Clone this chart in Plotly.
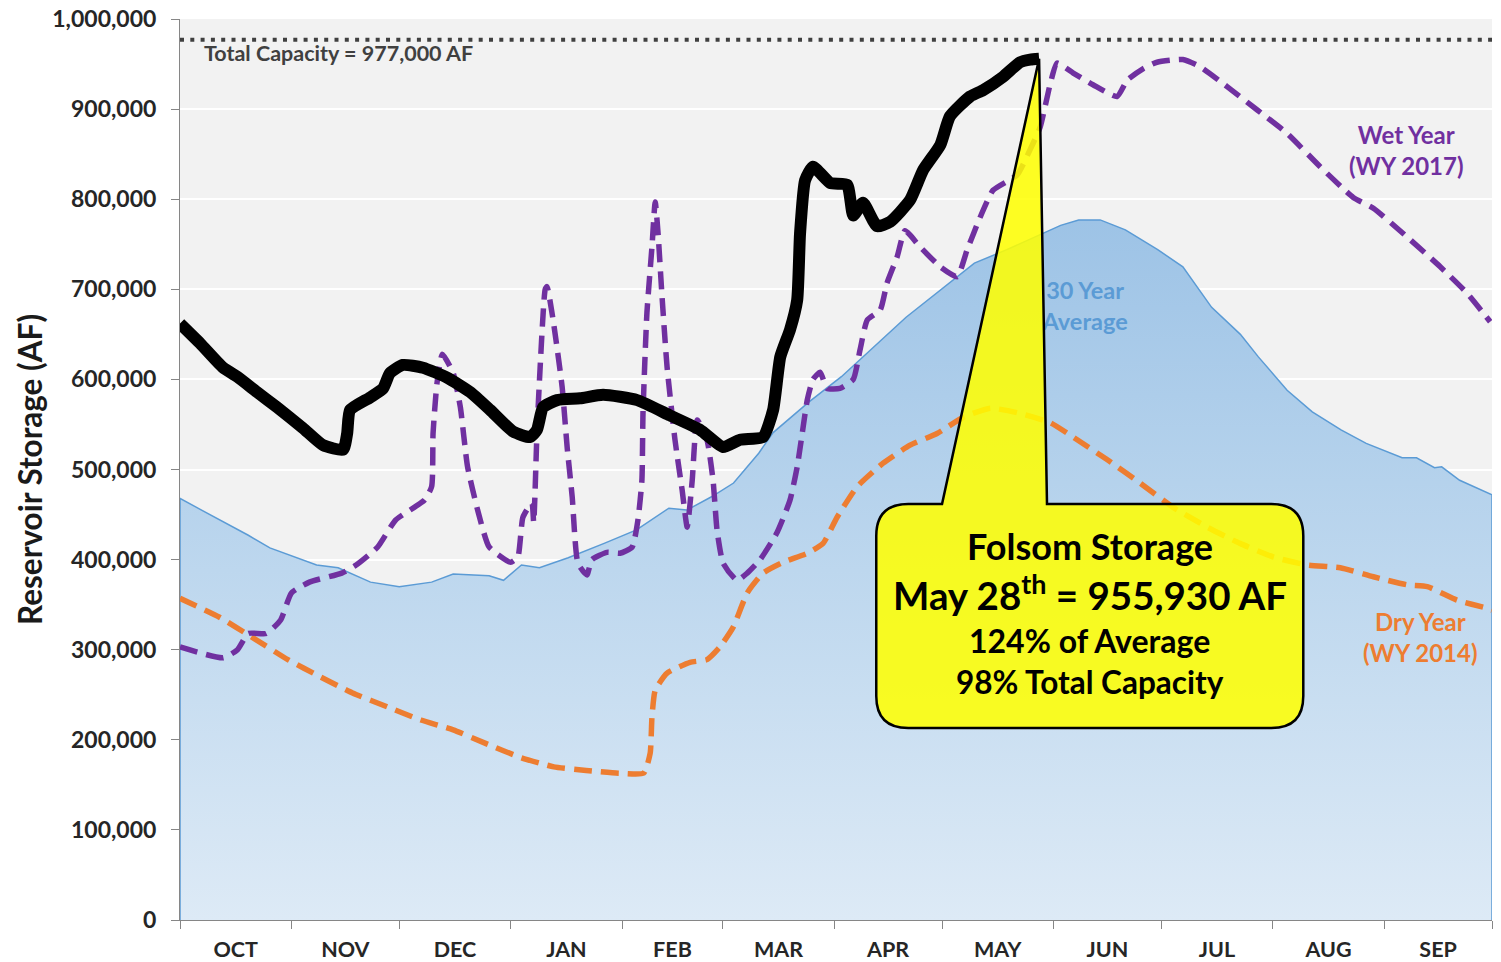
import plotly.graph_objects as go

# ---------------- data ----------------
MONTHS = ["OCT", "NOV", "DEC", "JAN", "FEB", "MAR", "APR", "MAY", "JUN", "JUL", "AUG", "SEP"]
MONTH_DAYS = [31, 30, 31, 31, 28, 31, 30, 31, 30, 31, 31, 30]
TOTAL_CAPACITY = 977000

# 30 year average storage (day of water year, AF)
avg_day = [0, 6, 19, 25, 38, 44, 53, 61, 70, 76, 86, 90, 95, 100, 108, 118, 127, 136, 141,
           148, 154, 161, 165, 175, 184, 202, 221, 230, 245, 250, 256, 263, 272, 279, 287,
           295, 300, 308, 315, 323, 330, 340, 344, 349, 351, 356, 364, 365]
avg_af = [468000, 455000, 427000, 413000, 394000, 391000, 375000, 370000, 375000, 384000,
          382000, 377000, 394000, 391000, 402000, 418000, 433000, 457000, 455000, 470000,
          485000, 518000, 541000, 575000, 603000, 669000, 729000, 744000, 771000, 777000,
          777000, 766000, 744000, 725000, 680000, 650000, 625000, 588000, 564000, 544000,
          529000, 513000, 513000, 502000, 503000, 488000, 474000, 472000]

# Wet year (WY 2017)
wet_day = [0, 12, 16, 19, 24, 28, 31, 36, 45, 49, 55, 60, 68, 70, 70.4, 71.5, 73, 76, 78, 80,
           83, 86, 92, 94, 95.4, 97.9, 98.4, 99.3, 100.2, 101.6, 102.1, 103.8, 106.3, 107.7,
           109.1, 110.7, 113.2, 114.6, 118.8, 122.4, 125.8, 127.4, 128.5, 128.8, 129.9, 131.3,
           132.2, 133, 134.1, 135.5, 137.7, 139.7, 141.1, 142.5, 143.9, 146.6, 148.3, 149.4,
           151.1, 155, 157.8, 161.4, 166.1, 169.7, 171.7, 173.1, 174.5, 176.1, 178.1, 180,
           183.6, 187.3, 189.2, 191.2, 194.8, 196.7, 199.5, 201.7, 205.9, 211.5, 216.2, 219,
           222.6, 226.2, 232.9, 236.5, 239.3, 242.1, 244, 248.5, 254, 260.7, 263.5, 268, 271.8,
           279, 283.8, 291.3, 299.7, 308, 317.2, 326.4, 332, 341.4, 350.6, 358, 364.5]
wet_kaf = [303, 291, 300, 318, 318, 333, 363, 375, 385, 394, 414, 444, 466, 481, 540, 596, 628,
           607, 569, 503, 452, 414, 397, 403, 447, 463, 441, 540, 614, 700, 703, 666, 592, 525,
           470, 396, 383, 400, 408, 407, 414, 444, 488, 562, 674, 747, 797, 762, 692, 614, 533,
           477, 436, 488, 555, 533, 488, 433, 396, 377, 385, 400, 430, 466, 503, 540, 577, 600,
           608, 590, 590, 600, 633, 666, 677, 707, 736, 765, 747, 725, 714, 744, 780, 810, 827,
           855, 880, 928, 951, 940, 927, 914, 932, 945, 952, 955, 947, 925, 899, 873, 836, 802,
           790, 758, 725, 696, 664]

# Dry year (WY 2014)
dry_day = [0, 11, 20, 30, 39, 48, 58, 67, 76, 85, 95, 104, 113, 122, 129, 130.8, 131.3, 132.2,
           135.5, 141.9, 146.6, 150.2, 153.9, 157.8, 162.2, 167.8, 174.5, 178.9, 182.8, 188.4,
           195.6, 203.1, 210.6, 217.9, 225.4, 232.9, 242.1, 249.6, 257.9, 267.1, 276.3, 285.8,
           294.9, 304.1, 313.6, 322.8, 332, 341.4, 347, 355.3, 363.6, 365]
dry_kaf = [357, 336, 314, 289, 270, 252, 236, 222, 211, 196, 180, 170, 166, 163, 163, 185, 225,
           255, 274, 286, 289, 303, 325, 363, 385, 397, 407, 418, 447, 481, 507, 527, 540, 558,
           568, 563, 552, 533, 511, 485, 458, 436, 418, 403, 394, 391, 381, 372, 370, 355, 346,
           344]

# Current Folsom storage (through May 28)
cur_day = [0, 5.6, 12, 15.9, 21.4, 27, 34.2, 39.8, 45.4, 46.5, 47.3, 52.9, 56.5, 58.4, 62,
           67.6, 74.3, 80.7, 86.3, 92.7, 97.4, 99.3, 101, 104.9, 111.3, 117.7, 127.2, 136.3,
           144.7, 151.1, 155.8, 162.2, 165, 167, 169.7, 171.7, 172.5, 173.9, 176.1, 180.9,
           185.6, 187.3, 190, 193.9, 197.6, 203.1, 206.7, 211.5, 214.2, 219.8, 223.4, 229,
           233.7, 236.5, 239]
cur_kaf = [662, 640, 613, 603, 586, 569, 546, 527, 522, 540, 566, 580, 590, 607, 616, 613, 602,
           586, 566, 542, 536, 544, 569, 577, 579, 583, 577, 560, 544, 525, 533, 536, 566, 625,
           655, 688, 762, 821, 836, 818, 816, 782, 796, 770, 775, 799, 832, 860, 892, 914, 921,
           936, 952, 955, 955.93]

Y_TICKS = list(range(0, 1000001, 100000))

# ---------------- figure ----------------
FONT = "Lato, Carlito, 'Open Sans', sans-serif"
n_days = sum(MONTH_DAYS)
bounds = [0]
for d in MONTH_DAYS:
    bounds.append(bounds[-1] + d)
mids = [(bounds[i] + bounds[i + 1]) / 2 for i in range(12)]

fig = go.Figure()

# 30 year average area (closed polygon down to zero)
fig.add_trace(go.Scatter(
    x=[avg_day[0]] + avg_day + [avg_day[-1]],
    y=[0] + avg_af + [0],
    mode="lines", fill="toself",
    line=dict(color="#5B9BD5", width=1.5),
    fillgradient=dict(type="vertical",
                      colorscale=[[0, "#DDEAF6"], [0.5, "#BDD7EE"], [1, "#9DC3E6"]]),
    hoverinfo="skip",
))

fig.add_trace(go.Scatter(
    x=dry_day, y=[v * 1000 for v in dry_kaf], mode="lines",
    line=dict(color="#ED7D31", width=5.5, dash="18px,9px", shape="spline", smoothing=0.5),
    hoverinfo="skip"))

fig.add_trace(go.Scatter(
    x=wet_day, y=[v * 1000 for v in wet_kaf], mode="lines",
    line=dict(color="#7030A0", width=5.5, dash="18px,9px", shape="spline", smoothing=0.5),
    hoverinfo="skip"))

fig.add_trace(go.Scatter(
    x=cur_day, y=[v * 1000 for v in cur_kaf], mode="lines",
    line=dict(color="#000000", width=12, shape="spline", smoothing=0.5),
    hoverinfo="skip"))

fig.add_trace(go.Scatter(
    x=[0, n_days], y=[TOTAL_CAPACITY, TOTAL_CAPACITY], mode="lines",
    line=dict(color="#404040", width=4, dash="4px,6.3px"), hoverinfo="skip"))

# "30 Year Average" label (drawn as a trace so the callout can cover it)
fig.add_trace(go.Scatter(
    x=[251.8], y=[678700], mode="text", text=["30 Year<br>Average"],
    textfont=dict(family=FONT, size=23.5, color="#5B9BD5", weight="bold"),
    hoverinfo="skip"))

# ---------------- callout shape ----------------
tip_x, tip_y = cur_day[-1], cur_kaf[-1] * 1000
bx0, bx1 = 193.7, 312.5
by0, by1 = 213000, 461700
pb0, pb1 = 212.0, 241.2
rx, ry = 8.9, 35500
path = (f"M {bx0+rx},{by1} L {pb0},{by1} L {tip_x},{tip_y} L {pb1},{by1} "
        f"L {bx1-rx},{by1} Q {bx1},{by1} {bx1},{by1-ry} L {bx1},{by0+ry} "
        f"Q {bx1},{by0} {bx1-rx},{by0} L {bx0+rx},{by0} Q {bx0},{by0} {bx0},{by0+ry} "
        f"L {bx0},{by1-ry} Q {bx0},{by1} {bx0+rx},{by1} Z")
fig.add_shape(type="path", path=path, xref="x", yref="y", layer="above",
              fillcolor="rgba(255,255,0,0.86)", line=dict(color="black", width=2.5))

cx = (bx0 + bx1) / 2
def ann(text, x, y, size, color, xanchor="center"):
    fig.add_annotation(text=text, x=x, y=y, xref="x", yref="y", showarrow=False,
                       xanchor=xanchor, yanchor="middle",
                       font=dict(family=FONT, size=size, color=color, weight="bold"))

ann("Folsom Storage", cx, 415100, 36, "black")
ann("May 28<sup>th</sup> = 955,930 AF", cx, 363500, 38.5, "black")
ann("124% of Average", cx, 309700, 32, "black")
ann("98% Total Capacity", cx, 264100, 31.5, "black")

ann("Total Capacity = 977,000 AF", 6, 962000, 21.5, "#404040", xanchor="left")
ann("Wet Year<br>(WY 2017)", 341.1, 854600, 24, "#7030A0")
ann("Dry Year<br>(WY 2014)", 345.0, 314600, 24, "#ED7D31")

# the page body adds an 8px offset, so the figure is sized to fit the window
fig.update_layout(
    width=1493, height=954,
    margin=dict(l=172, r=9, t=11, b=42),
    paper_bgcolor="white", plot_bgcolor="#F2F2F2",
    showlegend=False,
    font=dict(family=FONT),
)
fig.update_xaxes(
    range=[0, n_days], tickmode="array", tickvals=mids, ticktext=MONTHS,
    ticks="", showgrid=False, zeroline=False, automargin=False,
    showline=True, linecolor="#868686", linewidth=1,
    tickfont=dict(family=FONT, size=21.5, color="#262626", weight="bold"),
    ticklabelstandoff=10, ticklabeloverflow="allow",
    minor=dict(tickmode="array", tickvals=bounds, ticks="outside", ticklen=8,
               tickcolor="#868686", tickwidth=1, showgrid=False),
)
fig.update_yaxes(
    range=[0, 1000000], tickmode="array", tickvals=Y_TICKS, tickformat=",d",
    ticks="outside", ticklen=8, tickcolor="#868686", automargin=False,
    showgrid=True, gridcolor="white", gridwidth=2, zeroline=False,
    showline=True, linecolor="#868686", linewidth=1,
    tickfont=dict(family=FONT, size=23, color="#262626", weight="bold"),
    ticklabelstandoff=10, ticklabeloverflow="allow",
    title=dict(text="Reservoir Storage (AF)", standoff=0,
               font=dict(family=FONT, size=31.5, color="#1a1a1a", weight="bold")),
)

fig.write_html("out.html")
